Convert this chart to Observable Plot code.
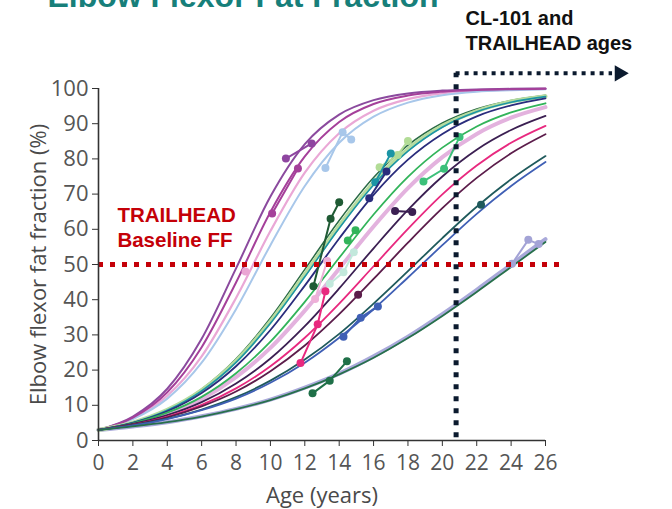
<!DOCTYPE html>
<html><head><meta charset="utf-8">
<script src="https://cdn.jsdelivr.net/npm/d3@7"></script>
<script src="https://cdn.jsdelivr.net/npm/@observablehq/plot@0.6"></script>
<style>html,body{margin:0;padding:0;background:#fff;overflow:hidden}</style>
</head><body><div id="chart"></div>
<script>
// ---- data ----
const ages = [0, 2, 4, 6, 8, 10, 12, 14, 16, 18, 20, 22, 24, 26];
const xTicks = [0, 2, 4, 6, 8, 10, 12, 14, 16, 18, 20, 22, 24, 26];
const yTicks = [0, 10, 20, 30, 40, 50, 60, 70, 80, 90, 100];

// fitted fat-fraction curves, value at each entry of `ages`
const fitPurple     = [3, 6.8, 14.7, 28.9, 48.9, 69.3, 84.2, 92.6, 96.7, 98.6, 99.4, 99.7, 99.9, 100];
const fitMagenta    = [3, 6.5, 13.7, 26.5, 44.9, 64.9, 80.7, 90.5, 95.6, 98.0, 99.1, 99.6, 99.8, 99.9];
const fitLightPink  = [3, 6.3, 12.7, 23.9, 40.5, 59.5, 76.1, 87.3, 93.7, 97.0, 98.6, 99.3, 99.7, 99.9];
const fitLightBlue  = [3, 6.1, 11.9, 22.1, 37.3, 55.5, 72.3, 84.6, 92.0, 96.0, 98.1, 99.1, 99.5, 99.8];
const fitLightGreen = [3, 5.1, 8.7, 14.3, 22.6, 33.8, 47.2, 61.0, 73.3, 82.8, 89.4, 93.6, 96.3, 97.8];
const fitTeal       = [3, 5.1, 8.6, 14.1, 22.2, 33.3, 46.5, 60.3, 72.6, 82.2, 89.0, 93.4, 96.1, 97.7];
const fitDarkGreen  = [3, 5.2, 8.8, 14.6, 23.2, 34.8, 48.6, 62.5, 74.7, 83.9, 90.2, 94.2, 96.6, 98.1];
const fitNavy       = [3, 5.0, 8.3, 13.5, 21.1, 31.4, 44.0, 57.4, 69.8, 79.8, 87.1, 92.1, 95.2, 97.2];
const fitGreen      = [3, 4.9, 7.9, 12.4, 19.1, 28.1, 39.4, 51.9, 64.2, 74.9, 83.2, 89.2, 93.2, 95.8];
const fitPinkThick  = [3, 4.8, 7.6, 11.8, 18.0, 26.3, 36.9, 48.8, 60.8, 71.7, 80.5, 87.1, 91.7, 94.7];
const fitDarkPurple = [3, 4.7, 7.2, 10.9, 16.2, 23.3, 32.5, 43.2, 54.6, 65.5, 75.0, 82.6, 88.2, 92.2];
const fitHotPink    = [3, 4.5, 6.8, 10.1, 14.8, 21.1, 29.2, 38.9, 49.5, 60.1, 69.9, 78.1, 84.6, 89.4];
const fitPlum       = [3, 4.5, 6.6, 9.7, 13.9, 19.7, 27.0, 35.9, 45.9, 56.2, 66.0, 74.6, 81.6, 87.0];
const fitDarkTeal   = [3, 4.3, 6.2, 8.8, 12.3, 17.0, 23.0, 30.3, 38.9, 48.1, 57.5, 66.4, 74.2, 80.8];
const fitBlue       = [3, 4.3, 6.1, 8.6, 11.9, 16.4, 22.1, 29.2, 37.3, 46.3, 55.5, 64.4, 72.3, 79.1];
const fitLavender   = [3, 4.0, 5.2, 6.9, 9.0, 11.6, 15.0, 19.0, 23.9, 29.5, 35.9, 42.8, 50.0, 57.2];
const fitLowGreen   = [3, 4.0, 5.2, 6.8, 8.9, 11.5, 14.8, 18.8, 23.5, 29.1, 35.4, 42.2, 49.3, 56.4];

// observed visits
const obsSubject = ["purple","purple","magenta","magenta","lightpink",
  "lightblue","lightblue","lightblue","lightgreen","lightgreen","lightgreen",
  "teal","teal","darkgreen","darkgreen","darkgreen","navy","navy","green","green",
  "emerald","emerald","emerald","mint","mint","mint","pinklight","pinklight",
  "darkpurple","darkpurple","hotpink","hotpink","hotpink","plum","darkteal",
  "blue","blue","blue","lavender","lavender","lavender","lowgreen","lowgreen","lowgreen"];
const obsAge = [10.9,12.4,10.1,11.6,8.55,
  13.2,14.2,14.7,16.35,17.4,18.0,
  16.1,17.0,12.5,13.5,14.0,15.75,16.75,14.5,14.95,
  18.9,20.1,21.0,13.45,14.25,14.85,12.6,13.3,
  17.25,18.25,11.75,12.75,13.2,15.1,22.25,
  14.25,15.25,16.25,24.05,25.0,25.6,12.45,13.45,14.45];
const obsFF = [80.1,84.4,64.5,77.3,48.0,
  77.4,87.6,85.5,77.6,81.1,85.1,
  73.4,81.5,43.8,63.0,67.7,68.8,76.4,56.8,59.7,
  73.6,77.2,86.2,44.5,47.8,53.5,40.2,51.0,
  65.2,64.9,22.0,33.0,42.4,41.4,67.0,
  29.5,34.9,38.1,50.2,57.0,55.8,13.4,17.0,22.5];

// reference lines
const trialAge = 20.8;      // CL-101 and TRAILHEAD ages
const baselineFF = 50;      // TRAILHEAD baseline FF

// ---- styles ----
const fits = [
  ["pinkthick", fitPinkThick, "#e3b2de", 4],
  ["lavender", fitLavender, "#a9a9da", 4],
  ["lightpink", fitLightPink, "#eaa8d6", 2.2],
  ["lightblue", fitLightBlue, "#a8c7ea", 2],
  ["purple", fitPurple, "#8b4a9e", 2],
  ["magenta", fitMagenta, "#a5409a", 2],
  ["darkgreen", fitDarkGreen, "#2a6a45", 1.5],
  ["lightgreen", fitLightGreen, "#b5dc9f", 4],
  ["teal", fitTeal, "#1b95a5", 1.6],
  ["navy", fitNavy, "#2a2c7c", 1.8],
  ["green", fitGreen, "#32b45a", 1.8],
  ["darkpurple", fitDarkPurple, "#3b1f52", 1.8],
  ["hotpink", fitHotPink, "#e8297f", 1.8],
  ["plum", fitPlum, "#5c1d4b", 1.8],
  ["darkteal", fitDarkTeal, "#1f5a5c", 1.8],
  ["blue", fitBlue, "#3f5fb5", 1.8],
  ["lowgreen", fitLowGreen, "#27704b", 1.8]
];
const obsColor = {
  purple:"#8e45a0", magenta:"#a5409a", lightpink:"#eba6d4", lightblue:"#a8c7ea",
  lightgreen:"#b2dc96", teal:"#1b95a5", darkgreen:"#1f5a34", navy:"#2a2c7c",
  green:"#32b45a", emerald:"#3cc07a", mint:"#c2e8dc", pinklight:"#eeb0d8",
  darkpurple:"#3b1f52", hotpink:"#e8297f", plum:"#5c1d4b", darkteal:"#1f5a5c",
  blue:"#3f5fb5", lavender:"#a3a3d6", lowgreen:"#1f7048"
};

const fitRows = fits.flatMap(([id, vals]) => ages.map((a, i) => ({id, age: a, ff: vals[i]})));
const obsRows = obsSubject.map((s, i) => ({id: s, age: obsAge[i], ff: obsFF[i]}));

const sans = "'Open Sans', sans-serif";
const arial = "'Liberation Sans', Arial, sans-serif";

const marks = [];
for (const [id, , color, w] of fits) {
  marks.push(Plot.line(fitRows.filter(d => d.id === id),
    {x: "age", y: "ff", stroke: color, strokeWidth: w, curve: "monotone-x"}));
}
for (const id of Object.keys(obsColor)) {
  const rows = obsRows.filter(d => d.id === id);
  marks.push(Plot.line(rows, {x: "age", y: "ff", stroke: obsColor[id], strokeWidth: 2}));
  marks.push(Plot.dot(rows, {x: "age", y: "ff", fill: obsColor[id], r: 4}));
}

const fig = Plot.plot({
  width: 672, height: 509,
  marginLeft: 98, marginRight: 127, marginTop: 88, marginBottom: 69,
  x: {domain: [0, 26]},
  y: {domain: [0, 100]},
  style: {fontFamily: sans, background: "#fff", overflow: "visible"},
  marks: [
    ...marks,
    Plot.ruleY([baselineFF], {x1: 0, x2: 26.9, stroke: "#c40008", strokeWidth: 5, strokeDasharray: "5,7"}),
    Plot.ruleX([trialAge], {y1: 0.8, y2: 104.3, stroke: "#0b1a2e", strokeWidth: 5, strokeDasharray: "5,7"}),
    Plot.ruleY([104.3], {x1: trialAge, x2: 29.9, stroke: "#0b1a2e", strokeWidth: 4, strokeDasharray: "4,5"}),
    Plot.dot([[30.3, 104.3]], {x: d => d[0], y: d => d[1], symbol: "triangle", rotate: 90, r: 6, fill: "#0b1a2e"}),
    Plot.axisY({ticks: yTicks, tickSize: 6, tickPadding: 4, fontSize: 22, stroke: "#333", fill: "#555", label: null}),
    Plot.axisX({ticks: xTicks, tickSize: 6, tickPadding: 9, fontSize: 21, stroke: "#333", fill: "#555", label: null}),
    Plot.ruleX([0], {stroke: "#333", strokeWidth: 1.6}),
    Plot.ruleY([0], {stroke: "#333", strokeWidth: 1.6}),
    Plot.text(["Elbow flexor fat fraction (%)"], {frameAnchor: "left", dx: -60, rotate: -90, textAnchor: "middle", lineAnchor: "middle", fontSize: 22, fill: "#4a4a4a", fontFamily: sans}),
    Plot.text(["Age (years)"], {frameAnchor: "bottom", dy: 55, lineAnchor: "middle", fontSize: 22, fill: "#4a4a4a", fontFamily: sans}),
    Plot.text(["Elbow Flexor Fat Fraction"], {x: -2.97, y: 123.1, textAnchor: "start", lineAnchor: "bottom", fontSize: 32, fontWeight: "bold", fill: "#177f7a", fontFamily: arial}),
    Plot.text(["CL-101 and"], {x: 21.35, y: 117.9, textAnchor: "start", lineAnchor: "bottom", fontSize: 20, fontWeight: "bold", fill: "#111", fontFamily: arial}),
    Plot.text(["TRAILHEAD ages"], {x: 21.35, y: 110.8, textAnchor: "start", lineAnchor: "bottom", fontSize: 20, fontWeight: "bold", fill: "#111", fontFamily: arial}),
    Plot.text(["TRAILHEAD"], {x: 1.1, y: 62.0, textAnchor: "start", lineAnchor: "bottom", fontSize: 20.5, fontWeight: "bold", fill: "#c40008", fontFamily: arial}),
    Plot.text(["Baseline FF"], {x: 1.1, y: 55.0, textAnchor: "start", lineAnchor: "bottom", fontSize: 20.5, fontWeight: "bold", fill: "#c40008", fontFamily: arial})
  ]
});
document.getElementById("chart").appendChild(fig);
</script>
</body></html>
